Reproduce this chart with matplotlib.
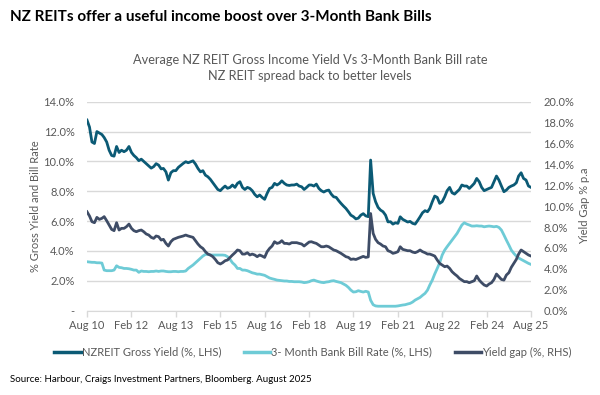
import pandas as pd
import matplotlib
matplotlib.use('Agg')
import matplotlib.pyplot as plt

plt.rcParams['font.family'] = ['Lato', 'DejaVu Sans']

# 月度数据 Aug 2010 - Aug 2025
dates = pd.date_range('2010-08-01', '2025-08-01', freq='MS')

reit_yield = [
    12.77, 12.3, 11.3, 11.2, 12.0, 11.9, 11.8, 11.6, 11.3, 10.75, 10.4, 10.35,
    11.0, 10.6, 10.75, 10.65, 10.75, 11.0, 10.6, 10.4, 10.25, 10.05, 10.15, 10.0,
    9.85, 9.7, 9.55, 9.65, 9.85, 9.75, 9.5, 9.53, 9.3, 8.75, 9.24, 9.38,
    9.38, 9.6, 9.73, 9.87, 9.98, 9.91, 9.98, 10.04, 9.82, 9.53, 9.3, 9.38,
    9.08, 8.97, 8.8, 8.57, 8.35, 8.12, 8.04, 8.2, 8.35, 8.2, 8.26, 8.42,
    8.26, 8.53, 8.64, 8.26, 8.12, 8.26, 8.19, 8.04, 7.79, 7.63, 7.75, 7.59,
    7.46, 7.86, 8.19, 8.26, 8.53, 8.42, 8.53, 8.7, 8.53, 8.42, 8.39, 8.42,
    8.42, 8.48, 8.35, 8.3, 8.12, 8.26, 8.42, 8.42, 8.35, 8.48, 8.19, 8.04,
    7.95, 8.04, 8.08, 7.81, 7.63, 7.59, 7.37, 7.19, 7.01, 6.85, 6.63, 6.4,
    6.3, 6.15, 6.2, 6.4, 6.5, 6.35, 6.3, 10.09, 7.86, 7.3, 6.92, 6.74,
    6.63, 6.4, 5.95, 5.96, 5.8, 5.89, 5.85, 6.29, 6.12, 6.03, 5.94, 5.98,
    5.85, 5.8, 6.03, 6.29, 6.56, 6.7, 6.63, 6.85, 7.3, 7.68, 7.59, 7.19,
    7.3, 7.63, 8.04, 8.26, 7.9, 7.81, 7.97, 8.12, 8.42, 8.35, 8.35, 8.19,
    8.35, 8.53, 8.86, 8.64, 8.26, 8.04, 8.12, 8.19, 8.26, 8.64, 9.02, 8.75,
    8.35, 7.97, 8.08, 8.26, 8.35, 8.42, 8.57, 9.02, 9.24, 8.86, 8.75, 8.35,
    8.26,
]

bill_rate = [
    3.28, 3.26, 3.24, 3.24, 3.21, 3.21, 3.19, 2.72, 2.68, 2.68, 2.68, 2.72,
    3.01, 2.9, 2.88, 2.83, 2.83, 2.81, 2.77, 2.72, 2.72, 2.57, 2.66, 2.63,
    2.63, 2.61, 2.63, 2.63, 2.66, 2.63, 2.66, 2.66, 2.63, 2.61, 2.61, 2.63,
    2.63, 2.61, 2.63, 2.63, 2.66, 2.83, 2.95, 3.06, 3.21, 3.35, 3.5, 3.66,
    3.77, 3.77, 3.73, 3.73, 3.73, 3.73, 3.73, 3.73, 3.71, 3.62, 3.44, 3.21,
    3.06, 2.83, 2.83, 2.72, 2.72, 2.68, 2.61, 2.54, 2.5, 2.45, 2.45, 2.41,
    2.37, 2.28, 2.19, 2.14, 2.1, 2.05, 2.03, 2.01, 1.99, 1.99, 1.96, 1.96,
    1.94, 1.94, 1.94, 1.92, 1.88, 1.9, 1.94, 2.01, 2.05, 1.99, 1.94, 1.9,
    1.88, 1.92, 1.94, 1.99, 2.01, 1.96, 1.92, 1.88, 1.79, 1.7, 1.56, 1.38,
    1.25, 1.27, 1.34, 1.29, 1.25, 1.3, 1.25, 0.7, 0.4, 0.32, 0.3, 0.3,
    0.3, 0.3, 0.3, 0.3, 0.3, 0.3, 0.32, 0.35, 0.38, 0.4, 0.45, 0.49,
    0.58, 0.71, 0.8, 0.89, 1.03, 1.16, 1.38, 1.72, 2.05, 2.46, 2.83, 3.21,
    3.73, 4.06, 4.29, 4.51, 4.73, 4.96, 5.18, 5.45, 5.74, 5.89, 5.8, 5.74,
    5.67, 5.67, 5.69, 5.67, 5.67, 5.62, 5.65, 5.67, 5.65, 5.62, 5.65, 5.58,
    5.4, 5.07, 4.73, 4.4, 4.06, 3.84, 3.66, 3.53, 3.44, 3.35, 3.26, 3.17,
    3.1,
]

yield_gap = [
    9.47, 9.06, 8.52, 8.42, 8.93, 8.74, 8.84, 9.0, 8.61, 8.2, 7.78, 7.66,
    8.42, 7.72, 7.88, 7.88, 8.04, 8.29, 7.88, 7.66, 7.56, 7.66, 7.72, 7.56,
    7.34, 7.24, 7.02, 6.92, 7.15, 7.08, 6.76, 6.83, 6.44, 6.19, 6.6, 6.83,
    6.92, 7.02, 7.08, 7.15, 7.24, 7.15, 7.08, 7.02, 6.7, 6.38, 6.12, 5.96,
    5.65, 5.42, 5.33, 5.17, 4.91, 4.59, 4.47, 4.59, 4.78, 4.85, 5.1, 5.33,
    5.55, 5.81, 5.74, 5.42, 5.42, 5.55, 5.33, 5.42, 5.33, 5.17, 5.33, 5.23,
    5.1, 5.65, 5.96, 6.19, 6.6, 6.44, 6.51, 6.7, 6.44, 6.44, 6.38, 6.51,
    6.51, 6.51, 6.44, 6.38, 6.19, 6.38, 6.57, 6.6, 6.51, 6.44, 6.28, 6.12,
    6.12, 6.19, 6.12, 5.96, 5.81, 5.74, 5.61, 5.49, 5.33, 5.17, 5.1, 4.91,
    4.95, 4.9, 5.0, 5.1, 5.2, 5.1, 5.15, 9.3, 7.4, 6.83, 6.51, 6.38,
    6.19, 6.12, 5.74, 5.65, 5.49, 5.55, 5.65, 6.12, 5.87, 5.81, 5.74, 5.74,
    5.61, 5.55, 5.65, 5.81, 5.65, 5.55, 5.42, 5.42, 5.33, 5.23, 4.85, 4.53,
    4.37, 4.21, 4.27, 4.05, 3.73, 3.51, 3.32, 3.09, 2.93, 2.78, 2.78, 2.68,
    2.78, 2.87, 3.32, 2.93, 2.68, 2.46, 2.36, 2.55, 2.68, 2.99, 3.51, 3.25,
    2.99, 2.93, 3.41, 3.64, 4.15, 4.53, 4.91, 5.42, 5.81, 5.65, 5.49, 5.33,
    5.23,
]

# 刻度: 每18个月
tick_dates = pd.date_range('2010-08-01', '2025-08-01', freq='18MS')
tick_labels = [d.strftime('%b %y') for d in tick_dates]
left_ticks = [0, 2, 4, 6, 8, 10, 12, 14]
right_ticks = [0, 2, 4, 6, 8, 10, 12, 14, 16, 18, 20]

teal = '#0B5A75'
cyan = '#6ECBD6'
slate = '#3E4C66'
grey_txt = '#595959'
grid_col = '#D9D9D9'

W, H = 600, 395
fig = plt.figure(figsize=(W / 100, H / 100), dpi=100)
ax = fig.add_axes([87 / W, 1 - 310.7 / H, (531 - 87) / W, (310.7 - 101.7) / H])
ax2 = ax.twinx()

l1, = ax.plot(dates, reit_yield, color=teal, lw=2.0, label='NZREIT Gross Yield (%, LHS)')
l2, = ax.plot(dates, bill_rate, color=cyan, lw=2.0, label='3- Month Bank Bill Rate (%, LHS)')
l3, = ax2.plot(dates, yield_gap, color=slate, lw=2.0, label='Yield gap (%, RHS)')

# 坐标轴
ax.set_xlim(tick_dates[0], tick_dates[-1])
ax.set_ylim(0, 14)
ax2.set_ylim(0, 20)
ax.set_xticks(tick_dates)
ax.set_xticklabels(tick_labels)
ax.set_yticks(left_ticks)
ax.set_yticklabels(['-'] + [f'{v:.1f}%' for v in left_ticks[1:]])
ax2.set_yticks(right_ticks)
ax2.set_yticklabels([f'{v:.1f}%' for v in right_ticks])

ax.grid(axis='y', color=grid_col, lw=1.0)
ax.set_axisbelow(True)
for a in (ax, ax2):
    for s in ('left', 'right', 'top', 'bottom'):
        a.spines[s].set_visible(False)
ax.spines['bottom'].set_visible(True)
ax.spines['bottom'].set_color(grid_col)

ax.tick_params(axis='x', length=4, width=1, color=grid_col, labelcolor=grey_txt, labelsize=8, pad=3)
ax.tick_params(axis='y', length=0, labelcolor=grey_txt, labelsize=8, pad=9)
ax2.tick_params(axis='y', length=0, labelcolor=grey_txt, labelsize=8, pad=9)

# 轴标签
fig.text(36 / W, 1 - 206 / H, '% Gross Yield and Bill Rate', rotation=90,
         ha='center', va='center', color=grey_txt, fontsize=8)
fig.text(585 / W, 1 - 206 / H, 'Yield Gap % p.a', rotation=90,
         ha='center', va='center', color=grey_txt, fontsize=8)

# 标题
fig.text(10 / W, 1 - 17 / H, 'NZ REITs offer a useful income boost over 3-Month Bank Bills',
         ha='left', va='center', fontsize=11, fontweight='bold', color='black')
fig.text(310 / W, 1 - 60 / H, 'Average NZ REIT Gross Income Yield Vs 3-Month Bank Bill rate',
         ha='center', va='center', fontsize=9.2, color=grey_txt)
fig.text(310 / W, 1 - 76 / H, 'NZ REIT spread back to better levels',
         ha='center', va='center', fontsize=9.2, color=grey_txt)

# 图例
leg = fig.legend(handles=[l1, l2, l3], loc='center', bbox_to_anchor=(313 / W, 1 - 352 / H),
                 ncol=3, frameon=False, fontsize=8, handlelength=2.4, handletextpad=0.1,
                 columnspacing=2.0, labelcolor=grey_txt)
for line in leg.get_lines():
    line.set_linewidth(2.5)

# 来源
fig.text(10 / W, 1 - 380 / H, 'Source: Harbour, Craigs Investment Partners, Bloomberg. August 2025',
         ha='left', va='center', fontsize=7, color='black')

fig.savefig('out.png', dpi=100)
